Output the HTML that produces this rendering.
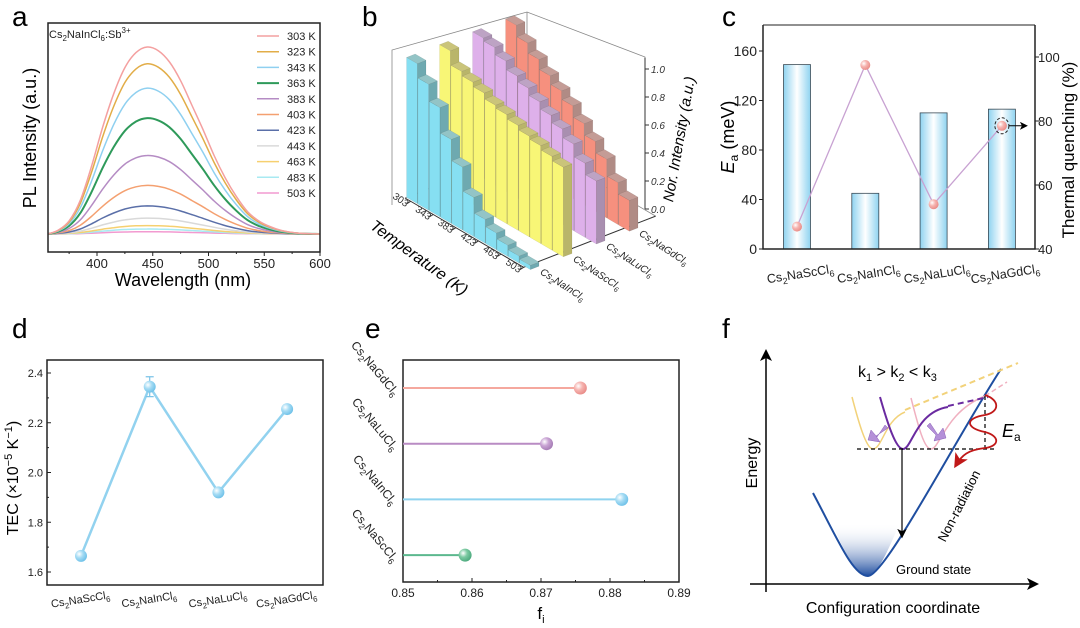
<!DOCTYPE html>
<html><head><meta charset="utf-8">
<style>
html,body{margin:0;padding:0;background:#fff;}
svg{display:block;font-family:"Liberation Sans",sans-serif;}
</style></head>
<body>
<svg id="fig" width="1080" height="628" viewBox="0 0 1080 628" xmlns="http://www.w3.org/2000/svg">
<defs>
<radialGradient id="gPink" cx="0.35" cy="0.35" r="0.7"><stop offset="0" stop-color="#fff"/><stop offset="0.45" stop-color="#f6b4b0"/><stop offset="1" stop-color="#e88a86"/></radialGradient>
<radialGradient id="gBlue" cx="0.35" cy="0.35" r="0.7"><stop offset="0" stop-color="#fff"/><stop offset="0.45" stop-color="#a6dcf4"/><stop offset="1" stop-color="#6cc0e8"/></radialGradient>
<radialGradient id="gPurple" cx="0.35" cy="0.35" r="0.7"><stop offset="0" stop-color="#fff"/><stop offset="0.45" stop-color="#c9a4d4"/><stop offset="1" stop-color="#a47ab4"/></radialGradient>
<radialGradient id="gGreen" cx="0.35" cy="0.35" r="0.7"><stop offset="0" stop-color="#fff"/><stop offset="0.45" stop-color="#7ccaa2"/><stop offset="1" stop-color="#4aa87c"/></radialGradient>
<linearGradient id="gBar" x1="0" x2="1" y1="0" y2="0"><stop offset="0" stop-color="#8fd3f0"/><stop offset="0.5" stop-color="#ffffff"/><stop offset="1" stop-color="#8fd3f0"/></linearGradient>
<linearGradient id="gWell" x1="0" x2="0" y1="0" y2="1"><stop offset="0" stop-color="#fff" stop-opacity="0"/><stop offset="1" stop-color="#1f4ea0"/></linearGradient>
<marker id="arr" markerWidth="8" markerHeight="8" refX="6" refY="4" orient="auto"><path d="M0,0 L8,4 L0,8 L2,4 Z" fill="#000"/></marker>
<marker id="arrR" markerWidth="8" markerHeight="8" refX="6" refY="4" orient="auto"><path d="M0,0 L8,4 L0,8 L2,4 Z" fill="#c01818"/></marker>
</defs>
</svg>
<script>
// ---------- Panel a data ----------
const aLabels=['303 K','323 K','343 K','363 K','383 K','403 K','423 K','443 K','463 K','483 K','503 K'];
const aPeak=[1.0,0.91,0.78,0.62,0.42,0.26,0.15,0.085,0.045,0.027,0.012];
const profNm=[356,365,375,385,395,405,415,425,435,445,455,465,475,485,495,505,515,525,535,545,555,565,580,600];
const profVal=[0,0.02,0.07,0.18,0.36,0.57,0.75,0.89,0.97,1.0,0.98,0.92,0.82,0.69,0.56,0.42,0.3,0.2,0.12,0.07,0.04,0.02,0.005,0];
const aXTicks=[400,450,500,550,600];
// ---------- Panel b data ----------
const bTemps=[303,323,343,363,383,403,423,443,463,483,503];
const bTempTicks=['303','343','383','423','463','503'];
const bSeries=['Cs2NaInCl6','Cs2NaScCl6','Cs2NaLuCl6','Cs2NaGdCl6'];
const bIn=[1.0,0.9,0.78,0.6,0.45,0.28,0.17,0.12,0.08,0.05,0.03];
const bSc=[1.0,0.9,0.87,0.84,0.8,0.78,0.75,0.72,0.7,0.67,0.64];
const bLu=[1.0,0.98,0.93,0.87,0.83,0.78,0.73,0.68,0.62,0.53,0.45];
const bGd=[1.0,0.92,0.85,0.78,0.72,0.66,0.58,0.5,0.42,0.3,0.22];
const bYTicks=[0,0.2,0.4,0.6,0.8,1.0];
// ---------- Panel c data ----------
const cCats=['Cs2NaScCl6','Cs2NaInCl6','Cs2NaLuCl6','Cs2NaGdCl6'];
const cEa=[149,45,110,113];
const cTQ=[47,97.5,54,78.5];
const cLeftTicks=[0,40,80,120,160];
const cRightTicks=[40,60,80,100];
// ---------- Panel d data ----------
const dCats=['Cs2NaScCl6','Cs2NaInCl6','Cs2NaLuCl6','Cs2NaGdCl6'];
const dVals=[1.665,2.345,1.92,2.255];
const dErr=[0,0.04,0,0];
const dTicks=[1.6,1.8,2.0,2.2,2.4];
// ---------- Panel e data ----------
const eCats=['Cs2NaGdCl6','Cs2NaLuCl6','Cs2NaInCl6','Cs2NaScCl6'];
const eVals=[0.8757,0.8708,0.8817,0.859];
const eTicks=[0.85,0.86,0.87,0.88,0.89];

const NS='http://www.w3.org/2000/svg';
const svg=document.getElementById('fig');
function mk(tag,attrs,parent){const e=document.createElementNS(NS,tag);for(const k in attrs)e.setAttribute(k,attrs[k]);(parent||svg).appendChild(e);return e;}
function txt(x,y,html,attrs,parent){const e=mk('text',Object.assign({x:x,y:y},attrs||{}),parent);e.innerHTML=html;return e;}
function chem(s,fs){let out='',sub=false;s.split(/(\d+)/).forEach((p,i)=>{if(!p)return;if(i%2){out+=`<tspan font-size="${(fs*0.72).toFixed(1)}" dy="${(fs*0.28).toFixed(1)}">${p}</tspan>`;sub=true;}else{out+=`<tspan dy="${sub?(-fs*0.28).toFixed(1):0}">${p}</tspan>`;sub=false;}});return out;}
function crPath(pts){let d='M'+pts[0][0].toFixed(1)+','+pts[0][1].toFixed(1);for(let i=0;i<pts.length-1;i++){const p0=pts[i-1]||pts[i],p1=pts[i],p2=pts[i+1],p3=pts[i+2]||p2;const c1=[p1[0]+(p2[0]-p0[0])/6,p1[1]+(p2[1]-p0[1])/6],c2=[p2[0]-(p3[0]-p1[0])/6,p2[1]-(p3[1]-p1[1])/6];d+=`C${c1[0].toFixed(1)},${c1[1].toFixed(1)} ${c2[0].toFixed(1)},${c2[1].toFixed(1)} ${p2[0].toFixed(1)},${p2[1].toFixed(1)}`;}return d;}
function panelLetter(x,y,s){const t=txt(x,y,s,{'font-size':28});

}

// ================= Panel a =================
(function(){
const g=mk('g',{});


const xa=nm=>97+(nm-400)*1.115, ya=v=>234-v*187;
const colors=['#f4a0a0','#e2ad48','#8fd0f0','#2e9a5a','#b58cc4','#f4a070','#5a6fa8','#d9d9d9','#f6d070','#a8eaf2','#f29ad0'];
for(let k=aPeak.length-1;k>=0;k--){
  const pts=profNm.map((nm,i)=>[xa(nm),ya(profVal[i]*aPeak[k])]);
  const p=mk('path',{d:crPath(pts),fill:'none',stroke:colors[k],'stroke-width':k==3?2:1.5},g);
  
  
}
const box=mk('rect',{x:48,y:23,width:272,height:229,fill:'none',stroke:'#222','stroke-width':1.5},g);


aXTicks.forEach(v=>{
  const l=mk('line',{x1:xa(v),x2:xa(v),y1:252,y2:256,stroke:'#222'},g);
  
  
  const t=txt(xa(v),268,v,{'font-size':13,'text-anchor':'middle',fill:'#222'},g);
  
  
  const m=mk('line',{x1:xa(v-25),x2:xa(v-25),y1:252,y2:254,stroke:'#222'},g);
  
  
});
aLabels.forEach((lab,i)=>{
  const y=36+i*15.7;
  const l=mk('line',{x1:257,x2:279,y1:y,y2:y,stroke:colors[i],'stroke-width':i==3?2:1.5},g);
  
  
  const t=txt(287,y+4,lab,{'font-size':11,fill:'#222'},g);
  
  
});
const s=txt(49,38,'Cs<tspan font-size="8" dy="3">2</tspan><tspan dy="-3">NaInCl</tspan><tspan font-size="8" dy="3">6</tspan><tspan dy="-3">:Sb</tspan><tspan font-size="8" dy="-5">3+</tspan>',{'font-size':11,fill:'#222'},g);


const yl=txt(0,0,'PL Intensity (a.u.)',{'font-size':18,'text-anchor':'middle',transform:'translate(36,138) rotate(-90)'},g);


const xl=txt(183,286,'Wavelength (nm)',{'font-size':18,'text-anchor':'middle'},g);


})();
panelLetter(12,26,'a');

// ================= Panel b =================
(function(){
const g=mk('g',{});


const A=[405,198], dT=[11.3,6.6], dS=[33,-12.8], H=140;
const P=(i,s)=>[A[0]+i*dT[0]+s*dS[0],A[1]+i*dT[1]+s*dS[1]];
const c0=P(0,0),c1=P(10.5,0),c2=P(10.5,4),c3=P(0,4);
const fr=mk('path',{d:`M392,205 L392,50 L527,12 L645,57 L645,207 M527,12 L527,${c3[1]} M${c0[0]},${c0[1]} L${c3[0]},${c3[1]} L${c2[0]},${c2[1]}`,fill:'none',stroke:'#888','stroke-width':0.8},g);


const fl=mk('path',{d:`M${c0[0]},${c0[1]} L${c1[0]},${c1[1]} L${c2[0]},${c2[1]}`,fill:'none',stroke:'#333','stroke-width':1},g);


const series=[bIn,bSc,bLu,bGd];
const cols=[['#86dff2','#6ea9b0','#93c4c6'],['#f8f676','#b9b56a','#cac47a'],['#deb0ea','#a98fb0','#bda3c4'],['#f6907e','#b08b85','#c49c96']];
const vT=[dT[0]*0.95,dT[1]*0.95], vS=[dS[0]*0.26,dS[1]*0.26];
const poly=(pts,fill)=>mk('polygon',{points:pts.map(p=>p[0].toFixed(1)+','+p[1].toFixed(1)).join(' '),fill:fill,stroke:'rgba(0,0,0,0.15)','stroke-width':0.4},g);
for(let s=3;s>=0;s--){
  for(let i=0;i<bTemps.length;i++){
    const h=series[s][i]*H;
    const p0=P(i,s+0.05), p1=[p0[0]+vT[0],p0[1]+vT[1]], p2=[p1[0]+vS[0],p1[1]+vS[1]], p3=[p0[0]+vS[0],p0[1]+vS[1]];
    const up=p=>[p[0],p[1]-h];
    const f1=poly([p0,p1,up(p1),up(p0)],cols[s][0]);
    
    
    const f2=poly([p1,p2,up(p2),up(p1)],cols[s][1]);
    
    
    const f3=poly([up(p0),up(p1),up(p2),up(p3)],cols[s][2]);
    
    
  }
}
bTempTicks.forEach((t,k)=>{
  const p=P(k*2+0.5,0);
  const l=mk('line',{x1:p[0],y1:p[1],x2:p[0]-4,y2:p[1]+2.5,stroke:'#333'},g);
  
  
  const tx=txt(0,0,t,{'font-size':10,'text-anchor':'end',fill:'#333',transform:`translate(${p[0]-5},${p[1]+6}) rotate(35)`},g);
  
  
});
const tt=txt(0,0,'Temperature (K)',{'font-size':16,'font-style':'italic','text-anchor':'middle',transform:'translate(416,262) rotate(36)'},g);


bSeries.forEach((n,s)=>{
  const p=P(10.5,s+0.3);
  const tx=txt(0,0,chem(n,10),{'font-size':10,'font-style':'italic',fill:'#222',transform:`translate(${p[0]+6},${p[1]+10}) rotate(33)`},g);
  
  
});
const zb=209;
const za=mk('line',{x1:645,x2:645,y1:zb,y2:zb-H*1.08,stroke:'#333'},g);


bYTicks.forEach(v=>{
  const y=zb-v*H;
  const l=mk('line',{x1:645,x2:649,y1:y,y2:y,stroke:'#333'},g);
  
  
  const t=txt(651,y+4,v.toFixed(1),{'font-size':10,fill:'#333','font-style':'italic'},g);
  
  
});
const zt=txt(0,0,'Nor. Intensity (a.u.)',{'font-size':15,'font-style':'italic','text-anchor':'middle',transform:'translate(684,140) rotate(-80)'},g);


})();
panelLetter(362,26,'b');

// ================= Panel c =================
(function(){
const g=mk('g',{});


const X0=763,X1=1035,Yb=249,Yt=25;
const yl=v=>Yb-v*(198/160), yr=v=>Yb-(v-40)*3.2;
const xc=i=>797+i*68.3;
cEa.forEach((v,i)=>{
  const r=mk('rect',{x:xc(i)-13.5,y:yl(v),width:27,height:Yb-yl(v),fill:'url(#gBar)',stroke:'#3a4a55','stroke-width':0.8},g);
  
  
});
const line=mk('polyline',{points:cTQ.map((v,i)=>xc(i)+','+yr(v)).join(' '),fill:'none',stroke:'#c8a2d2','stroke-width':1.3},g);


cTQ.forEach((v,i)=>{
  const c=mk('circle',{cx:xc(i),cy:yr(v),r:5,fill:'url(#gPink)'},g);
  
  
});
const dc=mk('ellipse',{cx:xc(3),cy:yr(cTQ[3]),rx:7,ry:8,fill:'none',stroke:'#222','stroke-dasharray':'3,2'},g);


const ar=mk('line',{x1:xc(3)+7,y1:yr(cTQ[3]),x2:xc(3)+24,y2:yr(cTQ[3]),stroke:'#000','marker-end':'url(#arr)'},g);


const box=mk('path',{d:`M${X0},${Yt} L${X0},${Yb} L${X1},${Yb} L${X1},${Yt}`,fill:'none',stroke:'#222','stroke-width':1.5},g);


const top=mk('line',{x1:X0,x2:X1,y1:Yt,y2:Yt,stroke:'#222','stroke-width':1},g);


cLeftTicks.forEach(v=>{
  const l=mk('line',{x1:X0-4,x2:X0,y1:yl(v),y2:yl(v),stroke:'#222'},g);
  
  
  const t=txt(X0-6,yl(v)+5,v,{'font-size':14,'text-anchor':'end',fill:'#222'},g);
  
  
});
cRightTicks.forEach(v=>{
  const l=mk('line',{x1:X1,x2:X1+4,y1:yr(v),y2:yr(v),stroke:'#222'},g);
  
  
  const t=txt(X1+3,yr(v)+5,v,{'font-size':13,fill:'#222'},g);
  
  
});
cCats.forEach((n,i)=>{
  const t=txt(0,0,chem(n,12.5),{'font-size':12.5,'text-anchor':'middle',fill:'#222',transform:`translate(${xc(i)+4},${278}) rotate(-9)`},g);
  
  
});
const yt=txt(0,0,'<tspan font-style="italic">E</tspan><tspan font-size="12" dy="4">a</tspan><tspan dy="-4"> (meV)</tspan>',{'font-size':18,'text-anchor':'middle',transform:'translate(734,137) rotate(-90)'},g);


const rt=txt(0,0,'Thermal quenching (%)',{'font-size':17,'text-anchor':'middle',transform:'translate(1074,150) rotate(-90)'},g);


})();
panelLetter(722,26,'c');

// ================= Panel d =================
(function(){
const g=mk('g',{});


const X0=47,X1=323,Yt=360,Yb=585;
const y=v=>572-(v-1.6)*(199/0.8), x=i=>81+i*68.7;
const box=mk('rect',{x:X0,y:Yt,width:X1-X0,height:Yb-Yt,fill:'none',stroke:'#222','stroke-width':1.5},g);


const ln=mk('polyline',{points:dVals.map((v,i)=>x(i)+','+y(v)).join(' '),fill:'none',stroke:'#92d2ef','stroke-width':2.5},g);


dVals.forEach((v,i)=>{
  if(dErr[i]>0){
    const e=mk('path',{d:`M${x(i)},${y(v-dErr[i])} L${x(i)},${y(v+dErr[i])} M${x(i)-4},${y(v+dErr[i])} L${x(i)+4},${y(v+dErr[i])} M${x(i)-4},${y(v-dErr[i])} L${x(i)+4},${y(v-dErr[i])}`,stroke:'#7cc4e8','stroke-width':1.2},g);
    
    
  }
  const c=mk('circle',{cx:x(i),cy:y(v),r:6,fill:'url(#gBlue)'},g);
  
  
  const t=txt(0,0,chem(dCats[i],11),{'font-size':11,'text-anchor':'middle',fill:'#222',transform:`translate(${x(i)},${603}) rotate(-9)`},g);
  
  
});
dTicks.forEach((v,k)=>{
  const l=mk('line',{x1:X0,x2:X0+4,y1:y(v),y2:y(v),stroke:'#222'},g);
  
  
  if(k<dTicks.length-1){
    const m=mk('line',{x1:X0,x2:X0+2,y1:y(v+0.1),y2:y(v+0.1),stroke:'#222'},g);
    
    
  }
  const t=txt(X0-4,y(v)+4,v.toFixed(1),{'font-size':11,'text-anchor':'end',fill:'#222'},g);
  
  
});
const yt=txt(0,0,'TEC (×10<tspan font-size="11" dy="-6">−5</tspan><tspan dy="6"> K</tspan><tspan font-size="11" dy="-6">−1</tspan><tspan dy="6">)</tspan>',{'font-size':16,'text-anchor':'middle',transform:'translate(18,478) rotate(-90)'},g);


})();
panelLetter(12,338,'d');

// ================= Panel e =================
(function(){
const g=mk('g',{});


const X0=403,X1=679,Yt=360,Yb=582;
const x=v=>X0+(v-0.85)*(X1-X0)/0.04, y=i=>388+i*55.7;
const cols=['#f5a89e','#b98cc4','#8fd3ef','#5cb88e'], grads=['url(#gPink)','url(#gPurple)','url(#gBlue)','url(#gGreen)'];
const box=mk('rect',{x:X0,y:Yt,width:X1-X0,height:Yb-Yt,fill:'none',stroke:'#222','stroke-width':1.5},g);


eVals.forEach((v,i)=>{
  const l=mk('line',{x1:X0,x2:x(v),y1:y(i),y2:y(i),stroke:cols[i],'stroke-width':2},g);
  
  
  const c=mk('circle',{cx:x(v),cy:y(i),r:6.5,fill:grads[i]},g);
  
  
  const t=txt(0,0,chem(eCats[i],12),{'font-size':12,'text-anchor':'middle',fill:'#222',transform:`translate(${372},${y(i)-17}) rotate(50)`},g);
  
  
});
eTicks.forEach((v,k)=>{
  const l=mk('line',{x1:x(v),x2:x(v),y1:Yb,y2:Yb-4,stroke:'#222'},g);
  
  
  if(k<eTicks.length-1){
    const m=mk('line',{x1:x(v+0.005),x2:x(v+0.005),y1:Yb,y2:Yb-2,stroke:'#222'},g);
    
    
  }
  const t=txt(x(v),Yb+15,v.toFixed(2),{'font-size':12,'text-anchor':'middle',fill:'#222'},g);
  
  
});
const xt=txt(541,619,'f<tspan font-size="11" dy="4">i</tspan>',{'font-size':17,'text-anchor':'middle'},g);


})();
panelLetter(365,338,'e');

// ================= Panel f (schematic) =================
(function(){
const g=mk('g',{});


const items=[
 ['energy-axis','line',{x1:766,y1:592,x2:766,y2:352,stroke:'#000','stroke-width':1.5,'marker-end':'url(#arr)'}],
 ['coordinate-axis','line',{x1:750,y1:584,x2:1036,y2:584,stroke:'#000','stroke-width':1.5,'marker-end':'url(#arr)'}],
 ['ground-state-fill','path',{d:'M832,523 L900,523 C890,545 878,576 868,576 C858,576 845,555 832,523 Z',fill:'url(#gWell)'}],
 ['ground-state-curve','path',{d:'M813,493 C838,540 853,576 868,576 C885,576 955,440 1001,369',fill:'none',stroke:'#1f4ea0','stroke-width':2}],
 ['yellow-excited-curve','path',{d:'M852,397 C858,420 866,449 873,449 C882,449 885,420 905,412',fill:'none',stroke:'#f2d27a','stroke-width':1.5}],
 ['yellow-dashed','line',{x1:905,y1:410,x2:1018,y2:363,stroke:'#f2d27a','stroke-width':2,'stroke-dasharray':'6,4'}],
 ['pink-excited-curve','path',{d:'M911,398 C918,425 924,449 931,449 C940,449 945,412 985,396',fill:'none',stroke:'#f0b0c0','stroke-width':1.5}],
 ['pink-dashed','line',{x1:985,y1:396,x2:1007,y2:382,stroke:'#f0b0c0','stroke-width':1.5,'stroke-dasharray':'5,3'}],
 ['purple-excited-curve','path',{d:'M880,397 C888,425 896,449 903,449 C912,449 916,412 948,407',fill:'none',stroke:'#6a2aa0','stroke-width':2}],
 ['purple-dashed','line',{x1:948,y1:406,x2:988,y2:397,stroke:'#6a2aa0','stroke-width':2,'stroke-dasharray':'6,4'}],
 ['transition-level','line',{x1:857,y1:449,x2:997,y2:449,stroke:'#000','stroke-width':1.2,'stroke-dasharray':'4,3'}],
 ['ea-dashed','line',{x1:985,y1:396,x2:985,y2:449,stroke:'#000','stroke-width':1.2,'stroke-dasharray':'4,3'}],
 ['emission-arrow','line',{x1:902,y1:449,x2:902,y2:536,stroke:'#000','stroke-width':1.2,'marker-end':'url(#arr)'}],
 ['thermal-wave','path',{d:'M985,395 C1000,400 1000,412 985,415 C965,418 965,428 985,432 C1000,436 1000,446 985,448 C968,450 962,455 956,465',fill:'none',stroke:'#c01818','stroke-width':1.8,'marker-end':'url(#arrR)'}],
 ['arrow-left','polygon',{points:'885,425 877,437 871,430 868,440 880,442 876,436 888,428',fill:'#b490d8',stroke:'#8a60b8','stroke-width':0.5}],
 ['arrow-right','polygon',{points:'930,423 938,435 943,428 946,438 934,441 936,435 927,426',fill:'#b490d8',stroke:'#8a60b8','stroke-width':0.5}]
];
items.forEach(it=>{const e=mk(it[1],it[2],g);

});
const k=txt(858,377,'k<tspan font-size="11" dy="4">1</tspan><tspan dy="-4"> &gt; k</tspan><tspan font-size="11" dy="4">2</tspan><tspan dy="-4"> &lt; k</tspan><tspan font-size="11" dy="4">3</tspan>',{'font-size':16},g);


const ea=txt(1002,437,'<tspan font-style="italic">E</tspan><tspan font-size="12" dy="4">a</tspan>',{'font-size':18},g);


const gs=txt(896,574,'Ground state',{'font-size':13},g);


const nr=txt(0,0,'Non-radiation',{'font-size':13,'text-anchor':'middle',transform:'translate(963,508) rotate(-63)'},g);


const en=txt(0,0,'Energy',{'font-size':16,'text-anchor':'middle',transform:'translate(757,463) rotate(-90)'},g);


const cc=txt(893,613,'Configuration coordinate',{'font-size':16,'text-anchor':'middle'},g);


})();
panelLetter(722,338,'f');
</script>
</body></html>
